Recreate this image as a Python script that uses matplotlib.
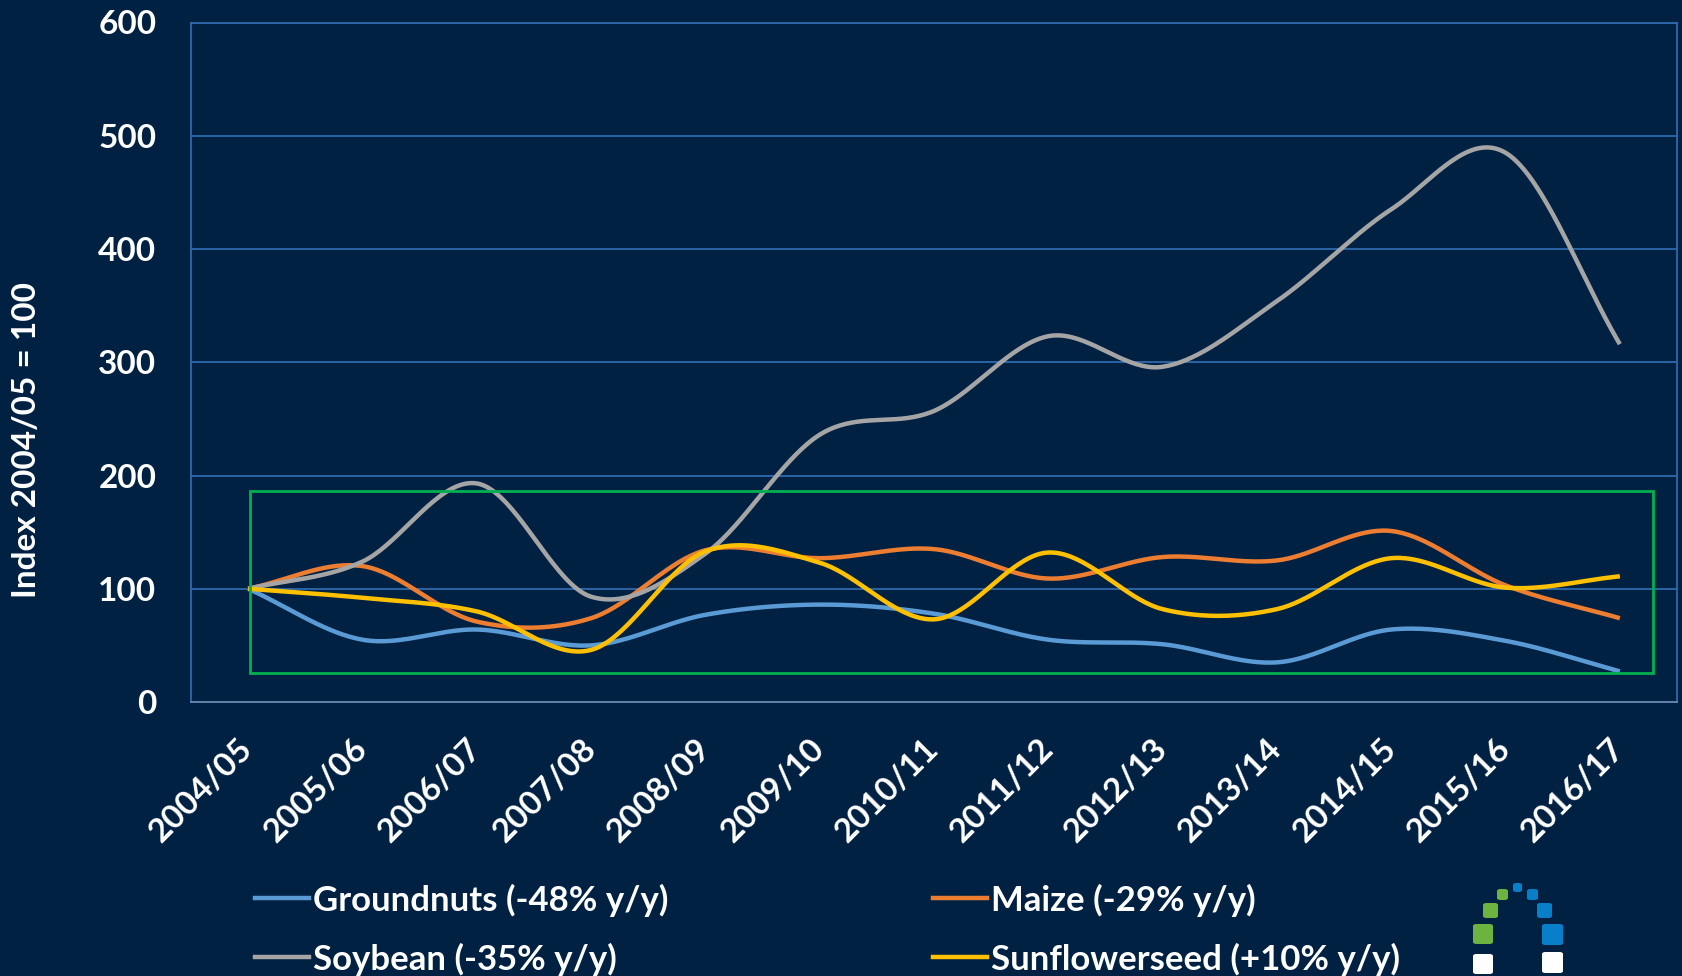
import matplotlib
matplotlib.use('Agg')
import matplotlib.pyplot as plt
import numpy as np
from matplotlib.patches import Rectangle, FancyBboxPatch
from matplotlib.lines import Line2D

# season labels
seasons = ['2004/05', '2005/06', '2006/07', '2007/08', '2008/09', '2009/10', '2010/11',
           '2011/12', '2012/13', '2013/14', '2014/15', '2015/16', '2016/17']

# index 2004/05 = 100
groundnuts = [100, 55, 64, 50, 77, 86, 78, 55, 51, 35, 64, 54, 27]
maize = [100, 120, 71, 74, 134, 127, 135, 109, 128, 125, 151, 103, 74]
soybean = [100, 124, 193, 93, 131, 236, 257, 323, 296, 354, 435, 485, 316]
sunflower = [100, 92, 80, 46, 133, 123, 73, 132, 82, 82, 127, 101, 111]

series_names = ['Groundnuts (-48% y/y)', 'Maize (-29% y/y)',
                'Soybean (-35% y/y)', 'Sunflowerseed (+10% y/y)']
series_colors = ['#5B9BD5', '#ED7D31', '#A5A5A5', '#FFC000']

yticks = [0, 100, 200, 300, 400, 500, 600]

BG = '#002142'
GRID = '#2E6AAE'
FONT = 'Lato'


def suavizar(y, n=40):
    """curva tipo Catmull-Rom (linha suavizada do Excel)"""
    y = np.asarray(y, dtype=float)
    x = np.arange(len(y), dtype=float)
    xs, ys = [], []
    for i in range(len(y) - 1):
        p0 = y[i - 1] if i > 0 else y[i]
        p3 = y[i + 2] if i + 2 < len(y) else y[i + 1]
        p1, p2 = y[i], y[i + 1]
        m1 = (p2 - p0) / 2 if i > 0 else (p2 - p1)
        m2 = (p3 - p1) / 2 if i + 2 < len(y) else (p2 - p1)
        t = np.linspace(0, 1, n)
        h00 = 2 * t**3 - 3 * t**2 + 1
        h10 = t**3 - 2 * t**2 + t
        h01 = -2 * t**3 + 3 * t**2
        h11 = t**3 - t**2
        xs.append(x[i] + t)
        ys.append(h00 * p1 + h10 * m1 + h01 * p2 + h11 * m2)
    return np.concatenate(xs), np.concatenate(ys)


W, H = 1682, 976
fig = plt.figure(figsize=(W / 100, H / 100), dpi=100, facecolor=BG)
ax = fig.add_axes([191 / W, 1 - 702 / H, (1677 - 191) / W, (702 - 22.5) / H])
ax.set_facecolor(BG)

dados = [groundnuts, maize, soybean, sunflower]
ordem = [2, 0, 1, 3]  # soja por baixo, girassol por cima
for i in ordem:
    xs, ys = suavizar(dados[i])
    ax.plot(xs, ys, color=series_colors[i], lw=3.2, solid_capstyle='butt', zorder=3 + i)

ax.set_xlim(-0.5, len(seasons) - 0.5)
ax.set_ylim(0, 600)
ax.set_yticks(yticks)
ax.set_xticks(range(len(seasons)))
ax.set_xticklabels(seasons, rotation=45, ha='right', va='center', rotation_mode='anchor')
ax.grid(axis='y', color=GRID, lw=1.3)
ax.set_axisbelow(True)
ax.tick_params(axis='both', length=0, labelcolor='white', labelsize=24)
ax.tick_params(axis='y', pad=25)
ax.tick_params(axis='x', pad=30)
for lab in ax.get_xticklabels() + ax.get_yticklabels():
    lab.set_fontfamily(FONT)
    lab.set_fontweight('bold')
for s in ['left', 'top', 'right']:
    ax.spines[s].set_color(GRID)
    ax.spines[s].set_linewidth(1.3)
ax.spines['bottom'].set_color('#6A88AE')
ax.spines['bottom'].set_linewidth(1.3)

# caixa verde de destaque
ax.add_patch(Rectangle((0.02, 26), 12.27, 160, fill=False, edgecolor='#00B050', lw=2, zorder=10))

fig.text(27 / W, 1 - 440 / H, 'Index 2004/05 = 100', rotation=90, ha='center', va='center',
         color='white', fontsize=24, fontweight='bold', fontfamily=FONT)

# legenda manual
leg_pos = [(255, 900), (933, 900), (255, 959), (933, 959)]
for (lx, ly), nome, cor in zip(leg_pos, series_names, series_colors):
    fig.add_artist(Line2D([lx / W, (lx + 54) / W], [1 - (ly - 2) / H, 1 - (ly - 2) / H],
                          color=cor, lw=3.2, transform=fig.transFigure))
    fig.text((lx + 58) / W, 1 - ly / H, nome, ha='left', va='center', color='white',
             fontsize=25, fontweight='bold', fontfamily=FONT)

# logo (cortado na parte de baixo)
quadrados = [
    (1513, 883, 9, '#0A7FC9'), (1497, 889, 11, '#6DB33F'), (1527, 889, 11, '#0A7FC9'),
    (1483, 903, 15, '#6DB33F'), (1537, 903, 15, '#0A7FC9'),
    (1473, 924, 20, '#6DB33F'), (1542, 924, 21, '#0A7FC9'),
    (1473, 954, 20, 'white'), (1542, 952, 21, 'white'),
]
for qx, qy, lado, cor in quadrados:
    fig.add_artist(FancyBboxPatch((qx / W, 1 - (qy + lado) / H), lado / W, lado / H,
                                  boxstyle='round,pad=0,rounding_size=0.002',
                                  facecolor=cor, edgecolor='none', transform=fig.transFigure))

fig.savefig('out.png', dpi=100, facecolor=BG)
